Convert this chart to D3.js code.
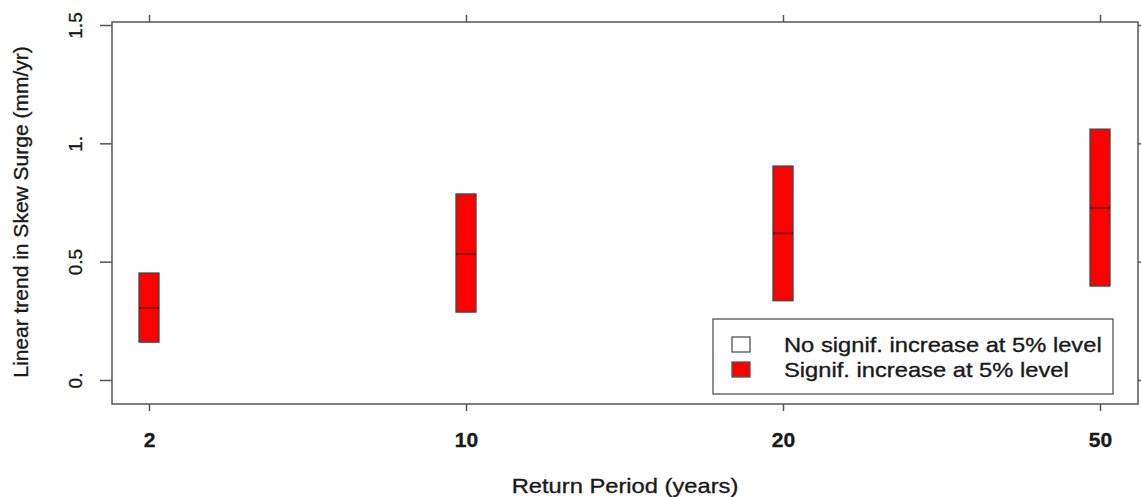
<!DOCTYPE html>
<html>
<head>
<meta charset="utf-8">
<script src="https://cdn.jsdelivr.net/npm/d3@7"></script>
<style>
  body { margin: 0; background: #fff; }
  svg text { font-family: "Liberation Sans", Arial, sans-serif; fill: #1a1a1a; stroke: #1a1a1a; stroke-width: 0.35; }
</style>
</head>
<body>
<div id="chart"></div>
<script>
// return periods and trend intervals
const periods = ["2", "10", "20", "50"];
const lower = [0.16, 0.287, 0.335, 0.397];
const median = [0.304, 0.532, 0.62, 0.727];
const upper = [0.452, 0.786, 0.904, 1.06];
const signif = [true, true, true, true];

const yTicks = [0, 0.5, 1, 1.5];
const yTickLabels = ["0.", "0.5", "1.", "1.5"];
const legendItems = [
    { label: "No signif. increase at 5% level", fill: "#fff" },
    { label: "Signif. increase at 5% level", fill: "#ff0000" }
];

const W = 1141, H = 497;
const frame = { left: 112, top: 22, right: 1138, bottom: 404 };
const stretch = 1.13; // the source image is a bit wider than tall

const svg = d3.select("#chart").append("svg")
    .attr("width", W)
    .attr("height", H);

const x = d3.scalePoint()
    .domain(periods)
    .range([149, 1100]);

const y = d3.scaleLinear()
    .domain([0, 1.5])
    .range([380, 25]);

const axisColor = "#555";

// plot frame
svg.append("rect")
    .attr("x", frame.left)
    .attr("y", frame.top)
    .attr("width", frame.right - frame.left)
    .attr("height", frame.bottom - frame.top)
    .attr("fill", "none")
    .attr("stroke", axisColor)
    .attr("stroke-width", 1.5);

const styleAxis = g => {
    g.select(".domain").remove();
    g.selectAll(".tick line").attr("stroke", axisColor).attr("stroke-width", 1.5);
};

// left axis, labels rotated like base R
const left = svg.append("g")
    .attr("transform", `translate(${frame.left},0)`)
    .call(d3.axisLeft(y).tickValues(yTicks).tickSize(12).tickFormat((d, i) => yTickLabels[i]))
    .call(styleAxis);
left.selectAll(".tick text")
    .attr("x", null).attr("dy", null)
    .attr("text-anchor", "middle")
    .attr("transform", "translate(-30,0) rotate(-90)")
    .attr("font-size", 19)
    .attr("fill", null);

// right ticks (mostly off-canvas)
svg.append("g")
    .attr("transform", `translate(${frame.right},0)`)
    .call(d3.axisRight(y).tickValues(yTicks).tickSize(8).tickFormat(""))
    .call(styleAxis);

// bottom axis
const bottom = svg.append("g")
    .attr("transform", `translate(0,${frame.bottom})`)
    .call(d3.axisBottom(x).tickSize(7))
    .call(styleAxis);
bottom.selectAll(".tick text")
    .attr("y", 43).attr("dy", null)
    .attr("font-size", 21)
    .attr("font-weight", "bold")
    .attr("fill", null);

// top ticks
svg.append("g")
    .attr("transform", `translate(0,${frame.top})`)
    .call(d3.axisTop(x).tickSize(7).tickFormat(""))
    .call(styleAxis);

// boxes
const boxW = 20;
const boxes = svg.append("g").selectAll("g.box")
    .data(periods.map((p, i) => ({ p, lo: lower[i], med: median[i], hi: upper[i], sig: signif[i] })))
    .enter()
    .append("g")
    .attr("class", "box");

boxes.append("rect")
    .attr("x", d => x(d.p) - boxW / 2)
    .attr("y", d => y(d.hi))
    .attr("width", boxW)
    .attr("height", d => y(d.lo) - y(d.hi))
    .attr("fill", d => d.sig ? "#ff0000" : "#fff")
    .attr("stroke", "#444")
    .attr("stroke-width", 1.3);

boxes.append("line")
    .attr("x1", d => x(d.p) - boxW / 2)
    .attr("x2", d => x(d.p) + boxW / 2)
    .attr("y1", d => y(d.med))
    .attr("y2", d => y(d.med))
    .attr("stroke", "#8b0000")
    .attr("stroke-width", 2);

// legend
const lg = svg.append("g").attr("transform", "translate(713,319)");
lg.append("rect")
    .attr("width", 400)
    .attr("height", 75)
    .attr("fill", "#fff")
    .attr("stroke", axisColor)
    .attr("stroke-width", 1.3);

const items = lg.selectAll("g.item")
    .data(legendItems)
    .enter()
    .append("g")
    .attr("class", "item")
    .attr("transform", (d, i) => `translate(0,${26 + i * 25})`);

items.append("rect")
    .attr("x", 19)
    .attr("y", -8)
    .attr("width", 18)
    .attr("height", 15)
    .attr("fill", d => d.fill)
    .attr("stroke", "#555")
    .attr("stroke-width", 1.3);

items.append("text")
    .attr("transform", `translate(71,7) scale(${stretch},1)`)
    .attr("font-size", 21)
    .text(d => d.label);

// axis titles
svg.append("text")
    .attr("transform", "translate(28,212) rotate(-90)")
    .attr("text-anchor", "middle")
    .attr("font-size", 21)
    .text("Linear trend in Skew Surge (mm/yr)");

svg.append("text")
    .attr("transform", `translate(625,493) scale(${stretch},1)`)
    .attr("text-anchor", "middle")
    .attr("font-size", 21)
    .text("Return Period (years)");
</script>
</body>
</html>
